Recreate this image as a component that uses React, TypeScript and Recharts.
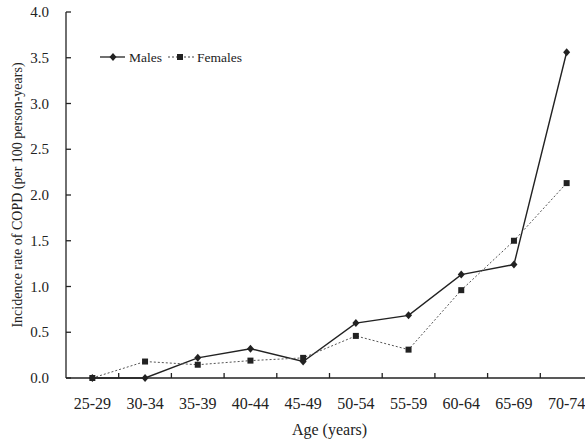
import { LineChart, Line, XAxis, YAxis, CartesianGrid } from 'recharts'

const ageGroups = ['25-29', '30-34', '35-39', '40-44', '45-49', '50-54', '55-59', '60-64', '65-69', '70-74']
const males = [0, 0, 0.22, 0.32, 0.18, 0.6, 0.685, 1.13, 1.24, 3.56]
const females = [0, 0.18, 0.145, 0.19, 0.22, 0.46, 0.31, 0.96, 1.5, 2.13]
const yTicks = [0, 0.5, 1, 1.5, 2, 2.5, 3, 3.5, 4]

const data = ageGroups.map((age, i) => ({ age, males: males[i], females: females[i] }))

const font = '"Liberation Serif", "Times New Roman", serif'
const ink = '#222'
const PLOT_H = 366

const Diamond = (props: any) => {
  const { cx, cy } = props
  if (cx == null || cy == null) return null
  return <path d={`M${cx},${cy - 4}L${cx + 3.5},${cy}L${cx},${cy + 4}L${cx - 3.5},${cy}Z`} fill={ink} />
}

const Square = (props: any) => {
  const { cx, cy } = props
  if (cx == null || cy == null) return null
  return <rect x={cx - 3} y={cy - 3} width={6} height={6} fill={ink} />
}

const LegendBox = () => (
  <svg width={160} height={16} style={{ position: 'absolute', left: 98, top: 49, fontFamily: font, fontSize: 13.5 }}>
    <line x1={2} y1={8} x2={27} y2={8} stroke={ink} strokeWidth={1.3} />
    <path d="M15,4L18.5,8L15,12L11.5,8Z" fill={ink} />
    <text x={31} y={12.5} fill={ink}>Males</text>
    <line x1={70} y1={8} x2={98} y2={8} stroke="#444" strokeWidth={1} strokeDasharray="2 2" />
    <rect x={79} y={5} width={6} height={6} fill={ink} />
    <text x={99} y={12.5} fill={ink}>Females</text>
  </svg>
)

const YTitle = (props: any) => {
  const vb = props.viewBox || {}
  const cx = 17
  const cy = vb.y + vb.height / 2
  return (
    <text
      x={cx}
      y={cy}
      transform={`rotate(-90, ${cx}, ${cy})`}
      textAnchor="middle"
      dominantBaseline="central"
      style={{ fontFamily: font, fontSize: 14, fill: ink }}
    >
      Incidence rate of COPD (per 100 person-years)
    </text>
  )
}

const XTick = (props: any) => {
  const { x, y, payload } = props
  return (
    <text x={x} y={y} dy={12} textAnchor="middle" style={{ fontFamily: font, fontSize: 16, fill: ink }}>
      {payload.value}
    </text>
  )
}

const YTick = (props: any) => {
  const { x, y, payload } = props
  return (
    <text x={x} y={y} dy={5} textAnchor="end" style={{ fontFamily: font, fontSize: 15, fill: ink }}>
      {Number(payload.value).toFixed(1)}
    </text>
  )
}

// vertical tick marks sit on the band edges between age groups
const bandEdges = (p: any) => {
  const off = p.offset || {}
  const n = ageGroups.length
  const out: number[] = []
  for (let i = 1; i < n; i++) out.push(off.left + (off.width * i) / n)
  return out
}

export default function App() {
  return (
    <div style={{ position: 'absolute', left: 0, top: 0, width: 585, height: 444, overflow: 'hidden', background: '#fff', fontFamily: font }}>
      <LineChart width={593} height={444} data={data} margin={{ top: 12, right: 0, bottom: 0, left: 0 }}>
        {/* short dashes of the grid act as the inward tick marks */}
        <CartesianGrid
          horizontal
          vertical={false}
          stroke={ink}
          strokeWidth={1.3}
          strokeDasharray="5 2000"
        />
        <CartesianGrid
          horizontal={false}
          vertical
          verticalCoordinatesGenerator={bandEdges}
          stroke={ink}
          strokeWidth={1.3}
          strokeDasharray={`0 ${PLOT_H - 5} 5 2000`}
        />
        <XAxis
          dataKey="age"
          scale="band"
          height={66}
          axisLine={{ stroke: ink, strokeWidth: 1.3 }}
          tickLine={false}
          tickSize={0}
          tickMargin={19}
          interval={0}
          tick={<XTick />}
          label={{ value: 'Age (years)', position: 'insideBottom', offset: 9, style: { fontFamily: font, fill: ink, fontSize: 16 } }}
        />
        <YAxis
          width={66}
          domain={[0, 4]}
          ticks={yTicks}
          interval={0}
          tickSize={0}
          tickMargin={17}
          axisLine={{ stroke: ink, strokeWidth: 1.3 }}
          tickLine={false}
          tick={<YTick />}
          label={<YTitle />}
        />
        <Line
          dataKey="males"
          stroke={ink}
          strokeWidth={1.4}
          dot={<Diamond />}
          activeDot={false}
          isAnimationActive={false}
        />
        <Line
          dataKey="females"
          stroke="#555"
          strokeWidth={1}
          strokeDasharray="2 2"
          dot={<Square />}
          activeDot={false}
          isAnimationActive={false}
        />
      </LineChart>
      <LegendBox />
    </div>
  )
}
